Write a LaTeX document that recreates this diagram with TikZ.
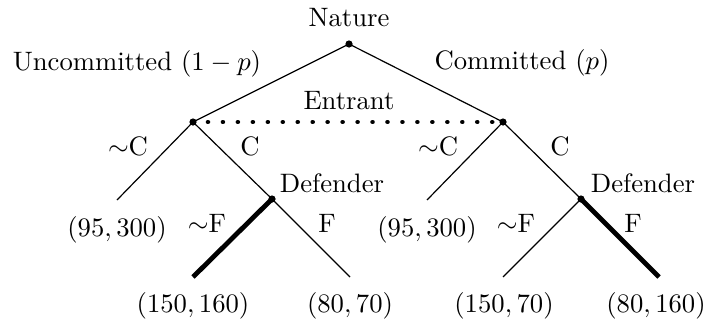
\documentclass[tikz,border=0pt]{standalone}
\begin{document}
\begin{tikzpicture}[x=0.375pt,y=-0.375pt,
  dec/.style={circle,fill,inner sep=0pt,minimum size=2.7pt},
  lbl/.style={inner sep=0pt,font=\fontsize{10}{12}\selectfont},
  branch/.style={line width=0.45pt},
  chosen/.style={line width=1.8pt},
  infoset/.style={line width=1.7pt,dash pattern=on 0.01pt off 5.6pt,line cap=round}]
\useasboundingbox (0,0) rectangle (707,322);
% decision nodes
\node[dec] (N) at (349,44) {};
\node[dec] (E1) at (193,122) {};
\node[dec] (E2) at (503,122) {};
\node[dec] (D1) at (272,199) {};
\node[dec] (D2) at (581,199) {};
% terminal points
\coordinate (L1) at (117,200);
\coordinate (L2) at (427,200);
\coordinate (T1) at (193,277);
\coordinate (T2) at (350,277);
\coordinate (T3) at (503,277);
\coordinate (T4) at (659,277);
% branches
\draw[branch] (N.center) -- (E1.center);
\draw[branch] (N.center) -- (E2.center);
\draw[branch] (E1.center) -- (L1);
\draw[branch] (E1.center) -- (D1.center);
\draw[branch] (E2.center) -- (L2);
\draw[branch] (E2.center) -- (D2.center);
\draw[chosen] (D1.center) -- (T1);
\draw[branch] (D1.center) -- (T2);
\draw[branch] (D2.center) -- (T3);
\draw[chosen] (D2.center) -- (T4);
\draw[infoset] (E1.center) -- (E2.center);
% labels
\node[lbl] (nat) at (349,18) {Nature};
\node[lbl] (unc) at (137,64) {Uncommitted $(1-p)$};
\node[lbl] (com) at (522,63) {Committed $(p)$};
\node[lbl] (ent) at (349,101) {Entrant};
\node[lbl] (nc1) at (128,146) {$\sim$C};
\node[lbl] (c1) at (250,146) {C};
\node[lbl] (nc2) at (438,146) {$\sim$C};
\node[lbl] (c2) at (560,146) {C};
\node[lbl] (def1) at (332,183) {Defender};
\node[lbl] (def2) at (643,183) {Defender};
\node[lbl] (p1) at (117,230) {$(95,300)$};
\node[lbl] (p2) at (427,230) {$(95,300)$};
\node[lbl] (nf1) at (207,223) {$\sim$F};
\node[lbl] (f1) at (327,223) {F};
\node[lbl] (nf2) at (516,223) {$\sim$F};
\node[lbl] (f2) at (633,223) {F};
\node[lbl] (o1) at (193,306) {$(150,160)$};
\node[lbl] (o2) at (350,306) {$(80,70)$};
\node[lbl] (o3) at (504,306) {$(150,70)$};
\node[lbl] (o4) at (656,306) {$(80,160)$};
\end{tikzpicture}
\end{document}
